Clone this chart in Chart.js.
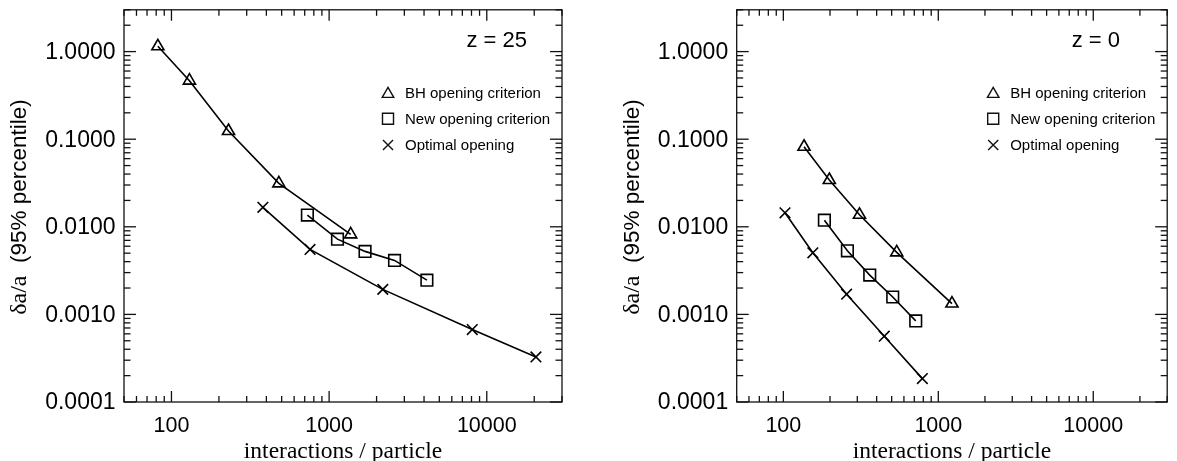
<!DOCTYPE html>
<html>
<head>
<meta charset="utf-8">
<script src="https://cdn.jsdelivr.net/npm/chart.js@4.4.0/dist/chart.umd.min.js"></script>
<style>
  body { margin: 0; background: #fff; }
  canvas { position: absolute; top: 0; }
  #left { left: 0; }
  #right { left: 588px; }
</style>
</head>
<body>
<canvas id="left" width="588" height="461"></canvas>
<canvas id="right" width="589" height="461"></canvas>
<script>
// z = 25 panel
const z25BhX = [82, 130, 230, 480, 1370];
const z25BhY = [1.15, 0.466, 0.124, 0.0313, 0.0082];
const z25NewX = [728, 1130, 1690, 2600, 4170];
const z25NewY = [0.0136, 0.00723, 0.00524, 0.00413, 0.00246];
const z25OptX = [380, 757, 2190, 8090, 20500];
const z25OptY = [0.0167, 0.00552, 0.00193, 0.000672, 0.000327];

// z = 0 panel
const z0BhX = [136, 198, 310, 539, 1225];
const z0BhY = [0.082, 0.0342, 0.0137, 0.0051, 0.00133];
const z0NewX = [184, 259, 361, 508, 715];
const z0NewY = [0.0119, 0.00532, 0.00281, 0.00158, 0.000843];
const z0OptX = [102.5, 155, 256, 448, 789];
const z0OptY = [0.01445, 0.00505, 0.0017, 0.000564, 0.000185];

const legendLabels = ['BH opening criterion', 'New opening criterion', 'Optimal opening'];
const pointStyles = ['triangle', 'rect', 'crossRot'];
const pointSizes = [7, 8.2, 7.5];
const xTickLabels = [100, 1000, 10000];
const yTickLabels = [1, 0.1, 0.01, 0.001, 0.0001];

function pts(xs, ys) {
  return xs.map((v, i) => ({ x: v, y: ys[i] }));
}

function line(ctx, x1, y1, x2, y2) {
  ctx.beginPath(); ctx.moveTo(x1, y1); ctx.lineTo(x2, y2); ctx.stroke();
}

// frame with inward ticks, labels, titles, legend (IDL look)
const frameTicks = {
  id: 'frameTicks',
  afterDraw(chart, args, opts) {
    const { ctx, chartArea: a, scales: { x, y } } = chart;
    ctx.save();
    ctx.strokeStyle = '#111';
    ctx.lineWidth = 1.3;
    ctx.strokeRect(a.left, a.top, a.right - a.left, a.bottom - a.top);

    for (let d = 10; d <= 100000; d *= 10) {
      for (let m = 1; m < 10; m++) {
        const v = m * d;
        if (v >= x.min && v <= x.max) {
          const px = x.getPixelForValue(v), len = m === 1 ? 11 : 6;
          line(ctx, px, a.bottom, px, a.bottom - len);
          line(ctx, px, a.top, px, a.top + len);
        }
      }
    }
    for (let d = 1e-5; d <= 10; d *= 10) {
      for (let m = 1; m < 10; m++) {
        const v = m * d;
        if (v >= y.min * 0.999 && v <= y.max) {
          const py = y.getPixelForValue(v), len = m === 1 ? 12 : 6.5;
          line(ctx, a.left, py, a.left + len, py);
          line(ctx, a.right, py, a.right - len, py);
        }
      }
    }

    ctx.fillStyle = '#000';
    ctx.font = '21.5px "Liberation Sans", Arial, sans-serif';
    ctx.textAlign = 'center';
    ctx.textBaseline = 'middle';
    xTickLabels.forEach(v => ctx.fillText(String(v), x.getPixelForValue(v), 426));
    ctx.font = '23px "Liberation Sans", Arial, sans-serif';
    ctx.textAlign = 'right';
    yTickLabels.forEach(v => ctx.fillText(v.toFixed(4), a.left - 8.5, y.getPixelForValue(v) + 1));

    // x title
    ctx.font = '23.5px "Liberation Serif", "Times New Roman", serif';
    ctx.textAlign = 'center';
    ctx.fillText('interactions / particle', (a.left + a.right) / 2, 452);

    // y title: serif symbol part + sans part
    ctx.save();
    ctx.translate(a.left - 104, 207);
    ctx.rotate(-Math.PI / 2);
    const serif = '24px "Liberation Serif", "Times New Roman", serif';
    const sans = '22.5px "Liberation Sans", Arial, sans-serif';
    const p1 = '\u03B4a/a', p2 = '  (95% percentile)';
    ctx.font = serif; const w1 = ctx.measureText(p1).width;
    ctx.font = sans; const w2 = ctx.measureText(p2).width;
    ctx.textAlign = 'left';
    ctx.font = serif; ctx.fillText(p1, -(w1 + w2) / 2, 0);
    ctx.font = sans; ctx.fillText(p2, -(w1 + w2) / 2 + w1, 0);
    ctx.restore();

    // redshift label
    ctx.font = '22px "Liberation Sans", Arial, sans-serif';
    ctx.textAlign = 'left';
    ctx.fillText(opts.label, a.right - 95.5, 40.5);

    // legend
    ctx.font = '15px "Liberation Sans", Arial, sans-serif';
    ctx.lineWidth = 1.4;
    const rows = [92.5, 118.7, 145];
    legendLabels.forEach((t, i) => {
      const mx = a.right - 174;
      ctx.fillStyle = 'rgba(0,0,0,0)';
      Chart.helpers.drawPoint(ctx, { pointStyle: pointStyles[i], radius: pointSizes[i] * 0.95, borderWidth: 1.4 }, mx, rows[i] + (i === 0 ? 1.5 : 0));
      ctx.fillStyle = '#000';
      ctx.fillText(t, mx + 17, rows[i] + 1);
    });
    ctx.restore();
  }
};

function series(xs, ys, i) {
  return {
    data: pts(xs, ys),
    borderColor: '#000',
    borderWidth: 1.6,
    pointStyle: pointStyles[i],
    pointRadius: pointSizes[i],
    pointBorderWidth: 1.6,
    pointBorderColor: '#000',
    pointBackgroundColor: 'rgba(0,0,0,0)',
    tension: 0
  };
}

function makeChart(id, sets, label, padLeft, padRight) {
  new Chart(document.getElementById(id), {
    type: 'line',
    data: { datasets: sets },
    options: {
      responsive: false,
      animation: false,
      devicePixelRatio: 1,
      layout: { padding: { left: padLeft, right: padRight, top: 9.5, bottom: 59 } },
      scales: {
        x: { type: 'logarithmic', min: 50, max: 30000, display: false },
        y: { type: 'logarithmic', min: 0.0001, max: 3, display: false }
      },
      plugins: {
        legend: { display: false },
        tooltip: { enabled: false },
        frameTicks: { label: label }
      }
    },
    plugins: [frameTicks]
  });
}

makeChart('left', [
  series(z25BhX, z25BhY, 0),
  series(z25NewX, z25NewY, 1),
  series(z25OptX, z25OptY, 2)
], 'z = 25', 124, 26);

makeChart('right', [
  series(z0BhX, z0BhY, 0),
  series(z0NewX, z0NewY, 1),
  series(z0OptX, z0OptY, 2)
], 'z = 0', 148.7, 2);
</script>
</body>
</html>
